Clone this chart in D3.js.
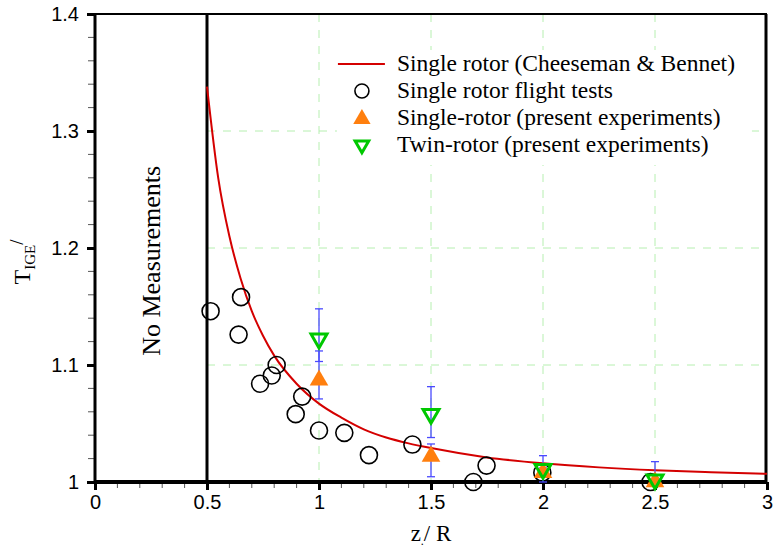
<!DOCTYPE html>
<html>
<head>
<meta charset="utf-8">
<script src="https://cdn.jsdelivr.net/npm/d3@7"></script>
<style>
  body { margin: 0; background: #fff; }
  .tick-label { font-family: "Liberation Sans", Arial, sans-serif; font-size: 20px; }
  .serif { font-family: "Liberation Serif", "Times New Roman", serif; }
</style>
</head>
<body>
<svg id="chart" width="774" height="550"></svg>
<script>
// data
const curveX = [0.5, 0.55, 0.6, 0.65, 0.7, 0.75, 0.8, 0.9, 1.0, 1.1, 1.2, 1.3, 1.4, 1.5, 1.75, 2.0, 2.25, 2.5, 2.75, 3.0]
const curveY = [1.338, 1.260, 1.210, 1.174, 1.146, 1.125, 1.108, 1.084, 1.067, 1.055, 1.045, 1.038, 1.033, 1.029, 1.021, 1.016, 1.0125, 1.010, 1.0083, 1.007]

const flightX = [0.516, 0.652, 0.641, 0.811, 0.789, 0.737, 0.925, 0.896, 1.0, 1.113, 1.223, 1.417, 1.689, 1.748, 1.997, 2.48]
const flightY = [1.146, 1.158, 1.126, 1.100, 1.091, 1.084, 1.073, 1.058, 1.044, 1.042, 1.023, 1.032, 1.000, 1.014, 1.008, 1.000]

const expX = [1.0, 1.5, 2.0, 2.5]
const singleY = [1.087, 1.022, 1.008, 1.000]
const singleLo = [1.071, 1.0045, 1.004, 1.000]
const singleHi = [1.112, 1.0325, 1.012, 1.002]
const twinY = [1.1225, 1.058, 1.011, 1.002]
const twinLo = [1.103, 1.038, 1.000, 1.000]
const twinHi = [1.148, 1.0815, 1.0225, 1.0174]

const xTicks = [0, 0.5, 1, 1.5, 2, 2.5, 3]
const yTicks = [1, 1.1, 1.2, 1.3, 1.4]
const legendLabels = [
    "Single rotor (Cheeseman & Bennet)",
    "Single rotor flight tests",
    "Single-rotor (present experiments)",
    "Twin-rotor (present experiments)"
]

const margin = {left: 95, top: 14, right: 7, bottom: 68}
const svg = d3.select("#chart")
const W = +svg.attr("width") - margin.left - margin.right
const H = +svg.attr("height") - margin.top - margin.bottom

const x = d3.scaleLinear().domain([0, 3]).range([0, W])
const y = d3.scaleLinear().domain([1, 1.4]).range([H, 0])

const g = svg.append("g")
    .attr("transform", "translate(" + margin.left + "," + margin.top + ")")

// grid
const grid = g.append("g").attr("stroke", "#b6efb0").attr("stroke-width", 1).attr("stroke-dasharray", "8,8")
grid.selectAll(".vg").data([1, 1.5, 2, 2.5]).join("line")
    .attr("x1", d => x(d)).attr("x2", d => x(d))
    .attr("y1", 0).attr("y2", H)
grid.selectAll(".hg").data([1.1, 1.2, 1.3]).join("line")
    .attr("x1", x(0.5)).attr("x2", W)
    .attr("y1", d => y(d)).attr("y2", d => y(d))

// minor ticks
const minorX = d3.range(0, 3.001, 0.1).filter(v => Math.abs(v * 2 - Math.round(v * 2)) > 1e-6)
g.append("g").selectAll("line").data(minorX).join("line")
    .attr("x1", d => x(d)).attr("x2", d => x(d))
    .attr("y1", H).attr("y2", H + 6)
    .attr("stroke", "#555").attr("stroke-width", 1)
const minorY = d3.range(1, 1.4001, 0.02).filter(v => Math.abs(v * 10 - Math.round(v * 10)) > 1e-6)
g.append("g").selectAll("line").data(minorY).join("line")
    .attr("x1", -7).attr("x2", 0)
    .attr("y1", d => y(d)).attr("y2", d => y(d))
    .attr("stroke", "#555").attr("stroke-width", 1)

// axes
const xAxis = d3.axisBottom(x).tickValues(xTicks).tickSize(8).tickFormat(d3.format("~g"))
const yAxis = d3.axisLeft(y).tickValues(yTicks).tickSize(8).tickFormat(d3.format("~g"))

const gx = g.append("g").attr("transform", "translate(0," + H + ")").call(xAxis)
gx.select(".domain").remove()
gx.selectAll(".tick line").attr("stroke", "#000").attr("stroke-width", 3)
gx.selectAll(".tick text").attr("class", "tick-label").attr("y", 13).attr("fill", "#000")

const gy = g.append("g").call(yAxis)
gy.select(".domain").remove()
gy.selectAll(".tick line").attr("stroke", "#000").attr("stroke-width", 3)
gy.selectAll(".tick text").attr("class", "tick-label").attr("x", -16).attr("fill", "#000")

// frame
g.append("line").attr("x1", 0).attr("x2", W).attr("y1", 0).attr("y2", 0).attr("stroke", "#000").attr("stroke-width", 2)
g.append("line").attr("x1", W - 1).attr("x2", W - 1).attr("y1", 0).attr("y2", H).attr("stroke", "#000").attr("stroke-width", 3)
g.append("line").attr("x1", 0).attr("x2", 0).attr("y1", 0).attr("y2", H + 1).attr("stroke", "#000").attr("stroke-width", 3)
g.append("line").attr("x1", -1).attr("x2", W).attr("y1", H).attr("y2", H).attr("stroke", "#000").attr("stroke-width", 4)

// no measurements line
g.append("line").attr("x1", x(0.5)).attr("x2", x(0.5)).attr("y1", 0).attr("y2", H)
    .attr("stroke", "#000").attr("stroke-width", 3)
g.append("text").attr("class", "serif")
    .attr("transform", "translate(" + (x(0.5) - 47) + "," + y(1.189) + ") rotate(-90)")
    .attr("text-anchor", "middle").attr("font-size", 26)
    .text("No Measurements")

// theory curve
const line = d3.line().x((d, i) => x(curveX[i])).y(d => y(d)).curve(d3.curveMonotoneX)
g.append("path").datum(curveY)
    .attr("d", line).attr("fill", "none").attr("stroke", "#d40000").attr("stroke-width", 2)

// flight tests
g.append("g").selectAll("circle").data(flightX).join("circle")
    .attr("cx", d => x(d)).attr("cy", (d, i) => y(flightY[i]))
    .attr("r", 8.5).attr("fill", "none").attr("stroke", "#000").attr("stroke-width", 1.6)

// error bars
function errorBars(lo, hi) {
    const eb = g.append("g").attr("stroke", "#4a4aff").attr("stroke-width", 1.3)
    eb.selectAll(".v").data(expX).join("line")
        .attr("x1", d => x(d)).attr("x2", d => x(d))
        .attr("y1", (d, i) => y(lo[i])).attr("y2", (d, i) => y(hi[i]))
    eb.selectAll(".lo").data(expX).join("line")
        .attr("x1", d => x(d) - 4).attr("x2", d => x(d) + 4)
        .attr("y1", (d, i) => y(lo[i])).attr("y2", (d, i) => y(lo[i]))
    eb.selectAll(".hi").data(expX).join("line")
        .attr("x1", d => x(d) - 4).attr("x2", d => x(d) + 4)
        .attr("y1", (d, i) => y(hi[i])).attr("y2", (d, i) => y(hi[i]))
}
errorBars(singleLo, singleHi)
errorBars(twinLo, twinHi)

const tri = d3.symbol().type(d3.symbolTriangle).size(150)

g.append("g").selectAll("path").data(expX).join("path")
    .attr("d", tri)
    .attr("transform", (d, i) => "translate(" + x(d) + "," + y(singleY[i]) + ")")
    .attr("fill", "#ff7f0e")

g.append("g").selectAll("path").data(expX).join("path")
    .attr("d", d3.symbol().type(d3.symbolTriangle).size(110))
    .attr("transform", (d, i) => "translate(" + x(d) + "," + y(twinY[i]) + ") rotate(180)")
    .attr("fill", "none").attr("stroke", "#00c800").attr("stroke-width", 3)

// legend
const lg = g.append("g").attr("transform", "translate(" + (x(1.08)) + "," + 36 + ")")
lg.append("rect").attr("x", 0).attr("y", 0).attr("width", 415).attr("height", 115).attr("fill", "#fff")
const rowY = i => 14 + i * 27
lg.append("line").attr("x1", 1).attr("x2", 48).attr("y1", rowY(0)).attr("y2", rowY(0))
    .attr("stroke", "#d40000").attr("stroke-width", 2)
lg.append("circle").attr("cx", 25).attr("cy", rowY(1)).attr("r", 7)
    .attr("fill", "none").attr("stroke", "#000").attr("stroke-width", 1.6)
lg.append("path").attr("d", d3.symbol().type(d3.symbolTriangle).size(130))
    .attr("transform", "translate(25," + (rowY(2) + 1) + ")").attr("fill", "#ff7f0e")
lg.append("path").attr("d", d3.symbol().type(d3.symbolTriangle).size(80))
    .attr("transform", "translate(25," + rowY(3) + ") rotate(180)")
    .attr("fill", "none").attr("stroke", "#00c800").attr("stroke-width", 3)
lg.selectAll("text").data(legendLabels).join("text")
    .attr("class", "serif").attr("font-size", 23.5)
    .attr("x", 60).attr("y", (d, i) => rowY(i) + 7)
    .text(d => d)

// axis titles
const xt = svg.append("text").attr("class", "serif").attr("font-size", 23)
    .attr("x", margin.left + x(1.5)).attr("y", 541).attr("text-anchor", "middle")
xt.append("tspan").text("z")
xt.append("tspan").attr("font-size", 12).attr("dy", 4).text(".")
xt.append("tspan").attr("dy", -4).text("/ R")

const yt = svg.append("text").attr("class", "serif").attr("font-size", 24)
    .attr("transform", "translate(30," + 262 + ") rotate(-90)").attr("text-anchor", "middle")
yt.append("tspan").text("T")
yt.append("tspan").attr("font-size", 15).attr("dy", 5).text("IGE")
yt.append("tspan").attr("dy", -12).attr("font-size", 19).text("/")
</script>
</body>
</html>
